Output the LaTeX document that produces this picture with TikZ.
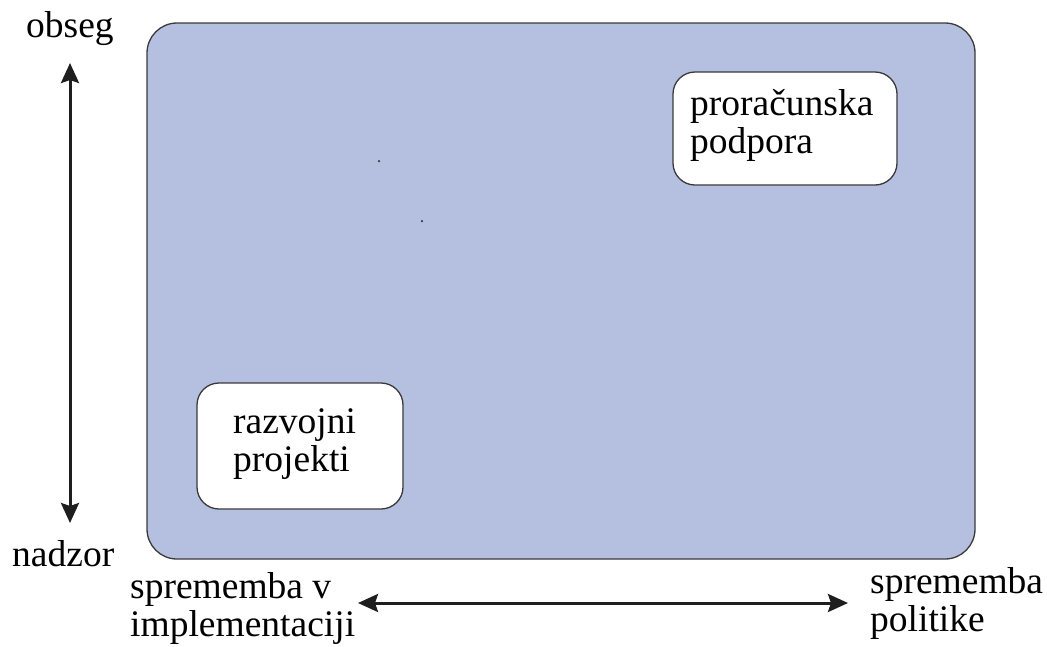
\documentclass[tikz,border=0pt]{standalone}
\usepackage{fontspec}
\setmainfont{Liberation Serif}
\usetikzlibrary{arrows.meta}
\definecolor{panelfill}{HTML}{B5C0E0}
\definecolor{edge}{HTML}{3A3A3A}
\definecolor{ink}{HTML}{1E1E1E}
\tikzset{
  panel/.style={draw=edge, line width=1.3pt, fill=panelfill, rounded corners=30pt, inner sep=0pt},
  whitebox/.style={draw=edge, line width=1.3pt, fill=white, rounded corners=22pt, inner sep=0pt},
  lbl/.style={font=\fontsize{37.5}{38}\selectfont, text=black, inner sep=0pt, align=left},
  axis/.style={draw=ink, line width=3pt, {Stealth[length=20pt,width=18pt,inset=3pt]}-{Stealth[length=20pt,width=18pt,inset=3pt]}},
  speck/.style={fill=edge, circle, inner sep=0pt, minimum size=2.5pt}
}
\begin{document}
\begin{tikzpicture}[x=1pt,y=-1pt]
\useasboundingbox (0,0) rectangle (1047,646);
\node[panel, minimum width=828pt, minimum height=536pt] (area) at (561,291) {};
\node[whitebox, minimum width=224pt, minimum height=113pt] (pp) at (785,128.5) {};
\node[whitebox, minimum width=206pt, minimum height=126pt] (rp) at (300,446) {};
\node[lbl, anchor=base west] (pptext) at (690,153) {proračunska\\podpora};
\node[lbl, anchor=base west] (rptext) at (233,471) {razvojni\\projekti};
\node[lbl, anchor=base west] (obseg) at (26,37) {obseg};
\node[lbl, anchor=base west] (nadzor) at (12,566) {nadzor};
\node[lbl, anchor=base west] (impl) at (130,636) {sprememba v\\implementaciji};
\node[lbl, anchor=base west] (pol) at (870,631) {sprememba\\politike};
\coordinate (vtop) at (70,63);
\coordinate (vbot) at (70,523);
\coordinate (hl) at (358,603);
\coordinate (hr) at (848,603);
\draw[axis] (vtop) -- (vbot);
\draw[axis] (hl) -- (hr);
\node[speck] (s1) at (379,161) {};
\node[speck] (s2) at (422,221) {};
\end{tikzpicture}
\end{document}
